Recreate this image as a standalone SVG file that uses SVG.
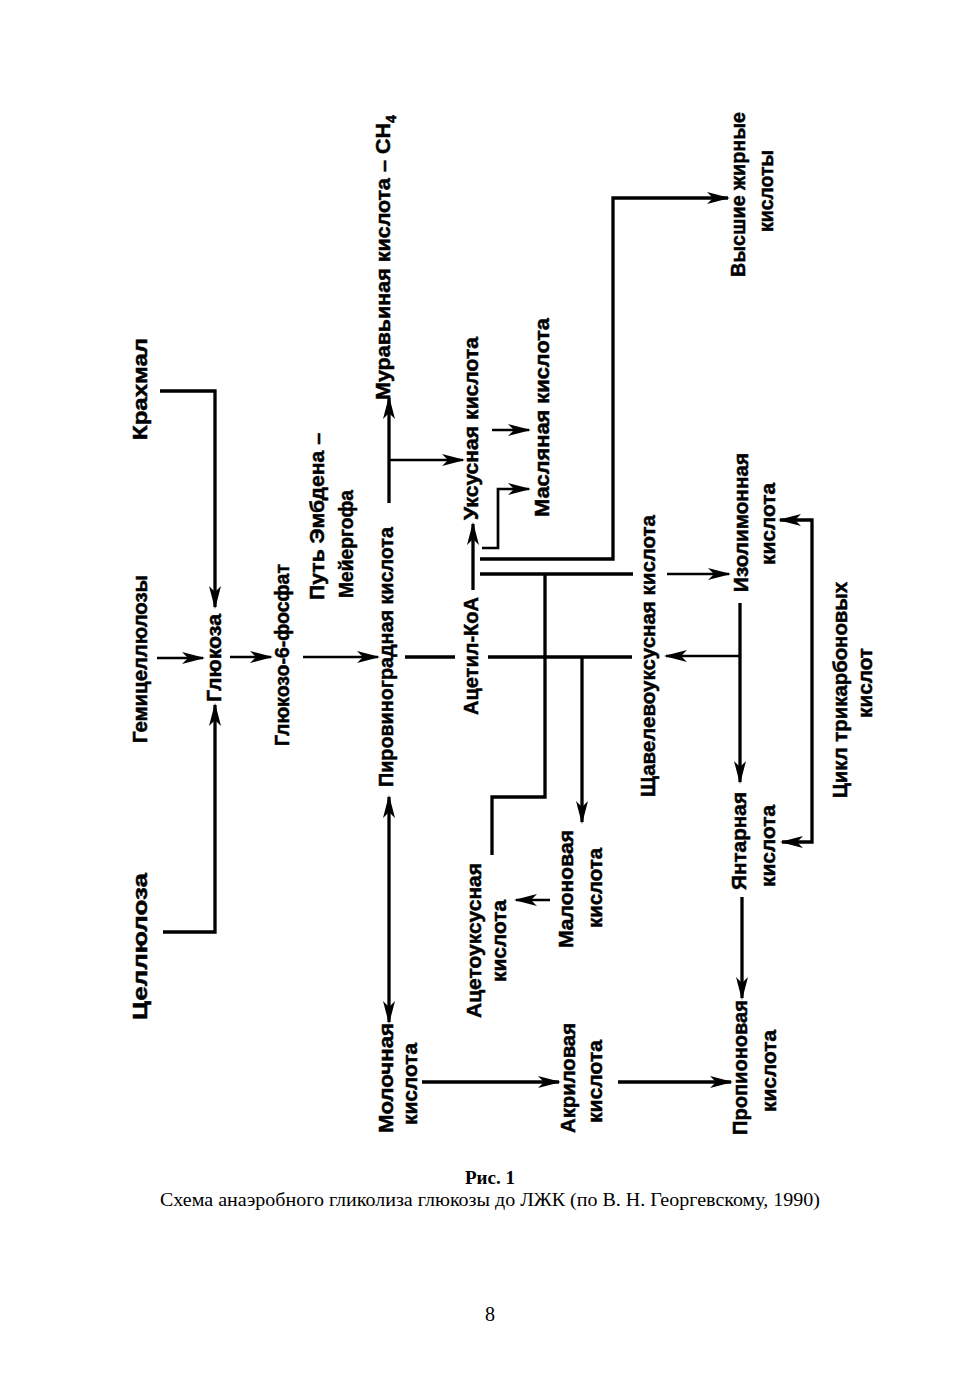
<svg xmlns="http://www.w3.org/2000/svg" width="980" height="1386" viewBox="0 0 980 1386">
<style>
.l{font-family:"Liberation Sans","Arial",sans-serif;font-weight:bold;font-size:20.5px;fill:#000;stroke:#000;stroke-width:0.5}
.c{fill:none;stroke:#000;stroke-width:3.3;stroke-linejoin:miter}
.t{fill:none;stroke:#000;stroke-width:2.7}
.a{marker-end:url(#ah)}
.cap{font-family:"Liberation Serif","Times New Roman",serif;fill:#000}
</style>
<defs>
<marker id="ah" markerUnits="userSpaceOnUse" markerWidth="23" markerHeight="13" refX="21" refY="6.5" orient="auto-start-reverse" viewBox="0 0 23 13">
<path d="M0,0.5 L23,6.5 L0,12.5 L6,6.5 z" fill="#000"/>
</marker>
</defs>
<rect width="980" height="1386" fill="#fff"/>

<g id="connectors">
<path class="c a" d="M160,391 H215 V607"/>
<path class="c a" d="M163,932 H215 V705"/>
<path class="t a" d="M157,658 H203"/>
<path class="t a" d="M230,657 H271"/>
<path class="t a" d="M303,657 H378"/>
<path class="c a" d="M389,503 V398"/>
<path class="t a" d="M390,460 H463"/>
<path class="c a" d="M389,797 V1022" style="marker-start:url(#ah)"/>
<path class="c" d="M405,657 H455"/>
<path class="c a" d="M473,590 V524"/>
<path class="t a" d="M492,430 H529"/>
<path class="t a" d="M482,548 H498 V489 H529"/>
<path class="c a" d="M480,559 H613 V198 H728"/>
<path class="c" d="M480,574 H633"/>
<path class="t a" d="M667,574 H729"/>
<path class="c" d="M488,657 H632"/>
<path class="c" d="M545,574 V797 H492 V855"/>
<path class="c a" d="M582,657 V822"/>
<path class="t a" d="M550,900 H516"/>
<path class="c a" d="M740,603 V782"/>
<path class="t a" d="M740,656 H666"/>
<path class="c a" d="M742,897 V998"/>
<path class="c a" d="M422,1082 H559"/>
<path class="c a" d="M618,1082 H731"/>
<path class="c a" d="M780,520 H812 V842 H782" style="marker-start:url(#ah)"/>
</g>

<g id="n-krahmal"><text class="l" transform="translate(147,440) rotate(-90)" textLength="102" lengthAdjust="spacingAndGlyphs">Крахмал</text></g>
<g id="n-gemicell"><text class="l" transform="translate(147,743) rotate(-90)" textLength="168" lengthAdjust="spacingAndGlyphs">Гемицеллюлозы</text></g>
<g id="n-cellul"><text class="l" transform="translate(147,1020) rotate(-90)" textLength="147" lengthAdjust="spacingAndGlyphs">Целлюлоза</text></g>
<g id="n-glukoza"><text class="l" transform="translate(221,702) rotate(-90)" textLength="88" lengthAdjust="spacingAndGlyphs">Глюкоза</text></g>
<g id="n-g6f"><text class="l" transform="translate(289,746) rotate(-90)" textLength="182" lengthAdjust="spacingAndGlyphs">Глюкозо-6-фосфат</text></g>
<g id="n-embden">
<text class="l" transform="translate(324,600) rotate(-90)" textLength="167" lengthAdjust="spacingAndGlyphs">Путь Эмбдена –</text>
<text class="l" transform="translate(353,598) rotate(-90)" textLength="108" lengthAdjust="spacingAndGlyphs">Мейергофа</text>
</g>
<g id="n-muravy">
<text class="l" transform="translate(390,400) rotate(-90)" textLength="277" lengthAdjust="spacingAndGlyphs">Муравьиная кислота – CH</text>
<text class="l" style="font-size:14px" transform="translate(396,123) rotate(-90)">4</text>
</g>
<g id="n-piruv"><text class="l" transform="translate(393,787) rotate(-90)" textLength="260" lengthAdjust="spacingAndGlyphs">Пировиноградная кислота</text></g>
<g id="n-uksus"><text class="l" transform="translate(478,520) rotate(-90)" textLength="183" lengthAdjust="spacingAndGlyphs">Уксусная кислота</text></g>
<g id="n-acetil"><text class="l" transform="translate(478,715) rotate(-90)" textLength="118" lengthAdjust="spacingAndGlyphs">Ацетил-КоА</text></g>
<g id="n-maslyan"><text class="l" transform="translate(549,517) rotate(-90)" textLength="199" lengthAdjust="spacingAndGlyphs">Масляная кислота</text></g>
<g id="n-acetouksus">
<text class="l" transform="translate(481,1018) rotate(-90)" textLength="155" lengthAdjust="spacingAndGlyphs">Ацетоуксусная</text>
<text class="l" transform="translate(506,982) rotate(-90)" textLength="82" lengthAdjust="spacingAndGlyphs">кислота</text>
</g>
<g id="n-malon">
<text class="l" transform="translate(573,948) rotate(-90)" textLength="118" lengthAdjust="spacingAndGlyphs">Малоновая</text>
<text class="l" transform="translate(602,928) rotate(-90)" textLength="80" lengthAdjust="spacingAndGlyphs">кислота</text>
</g>
<g id="n-molochn">
<text class="l" transform="translate(393,1133) rotate(-90)" textLength="110" lengthAdjust="spacingAndGlyphs">Молочная</text>
<text class="l" transform="translate(417,1125) rotate(-90)" textLength="82" lengthAdjust="spacingAndGlyphs">кислота</text>
</g>
<g id="n-akril">
<text class="l" transform="translate(575,1133) rotate(-90)" textLength="110" lengthAdjust="spacingAndGlyphs">Акриловая</text>
<text class="l" transform="translate(602,1123) rotate(-90)" textLength="83" lengthAdjust="spacingAndGlyphs">кислота</text>
</g>
<g id="n-shavel"><text class="l" transform="translate(655,797) rotate(-90)" textLength="282" lengthAdjust="spacingAndGlyphs">Щавелевоуксусная кислота</text></g>
<g id="n-vysshie">
<text class="l" transform="translate(745,277) rotate(-90)" textLength="165" lengthAdjust="spacingAndGlyphs">Высшие жирные</text>
<text class="l" transform="translate(773,232) rotate(-90)" textLength="82" lengthAdjust="spacingAndGlyphs">кислоты</text>
</g>
<g id="n-izolim">
<text class="l" transform="translate(748,592) rotate(-90)" textLength="139" lengthAdjust="spacingAndGlyphs">Изолимонная</text>
<text class="l" transform="translate(775,565) rotate(-90)" textLength="82" lengthAdjust="spacingAndGlyphs">кислота</text>
</g>
<g id="n-yantar">
<text class="l" transform="translate(746,890) rotate(-90)" textLength="98" lengthAdjust="spacingAndGlyphs">Янтарная</text>
<text class="l" transform="translate(775,887) rotate(-90)" textLength="82" lengthAdjust="spacingAndGlyphs">кислота</text>
</g>
<g id="n-propion">
<text class="l" transform="translate(747,1135) rotate(-90)" textLength="135" lengthAdjust="spacingAndGlyphs">Пропионовая</text>
<text class="l" transform="translate(776,1112) rotate(-90)" textLength="82" lengthAdjust="spacingAndGlyphs">кислота</text>
</g>
<g id="n-cikl">
<text class="l" transform="translate(847,798) rotate(-90)" textLength="216" lengthAdjust="spacingAndGlyphs">Цикл трикарбоновых</text>
<text class="l" transform="translate(872,718) rotate(-90)" textLength="70" lengthAdjust="spacingAndGlyphs">кислот</text>
</g>

<g id="caption">
<text class="cap" x="490" y="1184" text-anchor="middle" font-weight="bold" font-size="19">Рис. 1</text>
<text class="cap" x="160" y="1206" font-size="18.5" textLength="660" lengthAdjust="spacingAndGlyphs">Схема анаэробного гликолиза глюкозы до ЛЖК (по В. Н. Георгевскому, 1990)</text>
<text class="cap" x="490" y="1321" text-anchor="middle" font-size="20">8</text>
</g>
</svg>
